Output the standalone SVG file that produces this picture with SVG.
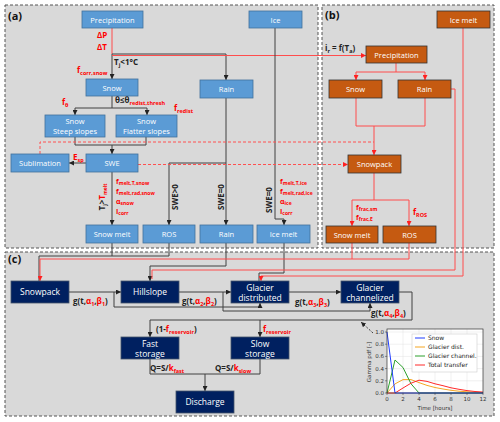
<svg xmlns="http://www.w3.org/2000/svg" width="500" height="422" viewBox="0 0 500 422">
<style>
.pn{fill:#d9d9d9;stroke:#555;stroke-width:1;stroke-dasharray:3,2}
.na{fill:#5b9bd5;stroke:#41719c;stroke-width:0.8}
.nb{fill:#c55a11;stroke:#333;stroke-width:0.8}
.nc{fill:#002060;stroke:#44546a;stroke-width:0.8}
.t{font-family:"Open Sans",sans-serif;font-size:7.5px;fill:#fff;text-anchor:middle}
.tc{font-family:"Open Sans",sans-serif;font-size:8.5px;fill:#fff;text-anchor:middle}
.bl{font-family:"Open Sans",sans-serif;font-size:8px;font-weight:bold;fill:#222}
.rl{font-family:"Open Sans",sans-serif;font-size:8px;font-weight:bold;fill:#ff0000}
.rs{font-family:"Open Sans",sans-serif;font-size:7px;font-weight:bold;fill:#ff0000}
.r{fill:#ff0000}
.k{fill:none;stroke:#404040;stroke-width:1}
.rd{fill:none;stroke:#ff4d4d;stroke-width:1}
.rdd{fill:none;stroke:#ff5050;stroke-width:1;stroke-dasharray:3,2}
.pl{font-family:"Open Sans",sans-serif;font-size:11px;font-weight:bold;fill:#111}
.ax{font-family:"DejaVu Sans",sans-serif;font-size:5.5px;fill:#333}
.lg{font-family:"DejaVu Sans",sans-serif;font-size:6px;fill:#222}
.gr{stroke:#e0e0e0;stroke-width:0.5}
</style>
<defs>
<marker id="ak" viewBox="0 0 6 6" refX="6" refY="3" markerWidth="5" markerHeight="5" orient="auto"><path d="M0,0L6,3L0,6z" fill="#222"/></marker>
<marker id="ar" viewBox="0 0 6 6" refX="6" refY="3" markerWidth="5" markerHeight="5" orient="auto"><path d="M0,0L6,3L0,6z" fill="#ff2020"/></marker>
</defs>
<rect width="500" height="422" fill="#fff"/>
<g id="panels">
<rect class="pn" x="5" y="5" width="313" height="243"/>
<rect class="pn" x="322" y="5" width="172" height="243"/>
<rect class="pn" x="5" y="252" width="489" height="164"/>
<text class="pl" x="8" y="20">(a)</text>
<text class="pl" x="325" y="19">(b)</text>
<text class="pl" x="8" y="263">(c)</text>
</g>
<g id="connectors">
<path class="rd" d="M112,28V54"/>
<path class="k" d="M112,54V79" marker-end="url(#ak)"/>
<path class="k" d="M112,54H226V80" marker-end="url(#ak)"/>
<path class="rd" d="M112,55.5H366" marker-end="url(#ar)"/>
<path class="k" d="M112,96V108M75,108H147"/>
<path class="k" d="M75,108V115" marker-end="url(#ak)"/>
<path class="k" d="M147,108V115" marker-end="url(#ak)"/>
<path class="k" d="M75,137V145H146V137M112,145V154" marker-end="url(#ak)"/>
<path class="k" d="M86,163H69" marker-end="url(#ak)"/>
<path class="k" d="M112,172V225" marker-end="url(#ak)"/>
<path class="k" d="M226,98V225" marker-end="url(#ak)"/>
<path class="k" d="M226,163H169V225" marker-end="url(#ak)"/>
<path class="k" d="M275,28V219H284V225" marker-end="url(#ak)"/>
<path class="rdd" d="M40,154V142H374"/>
<path class="rdd" d="M138,164.5H348" marker-end="url(#ar)"/>
<path class="rd" d="M396,63V72M356,72H425"/>
<path class="rd" d="M356,72V80" marker-end="url(#ar)"/>
<path class="rd" d="M425,72V80" marker-end="url(#ar)"/>
<path class="rd" d="M356,98V126H425V98M374,126V155" marker-end="url(#ar)"/>
<path class="rd" d="M374,173V200M352,200H409"/>
<path class="rd" d="M352,200V226" marker-end="url(#ar)"/>
<path class="rd" d="M409,200V226" marker-end="url(#ar)"/>
<path class="k" d="M112,243V256M169,243V256H39V281"/>
<path class="k" d="M226,243V266H150V281" marker-end="url(#ak)"/>
<path class="k" d="M284,243V273H259V281"/>
<path class="rd" d="M451,89H455V270H152V279"/>
<path class="rd" d="M352,243V259M409,243V259H40V281" marker-end="url(#ar)"/>
<path class="rd" d="M463,28V276H261V281" marker-end="url(#ar)"/>
<path class="k" d="M69,292H121" marker-end="url(#ak)"/>
<path class="k" d="M114,292V307H260V303" marker-end="url(#ak)"/>
<path class="k" d="M179,292H231" marker-end="url(#ak)"/>
<path class="k" d="M223,292V311H370V303" marker-end="url(#ak)"/>
<path class="k" d="M289,292H341" marker-end="url(#ak)"/>
<path class="k" d="M399,292H412V320H150V337" marker-end="url(#ak)"/>
<path class="k" d="M260,320V337" marker-end="url(#ak)"/>
<path class="k" d="M150,359V374H260V359M205,374V391" marker-end="url(#ak)"/>
<path class="k" d="M373,333L361,322" stroke-dasharray="2,1.5" marker-end="url(#ak)"/>
</g>
<g id="labels">
<text class="rl" x="97" y="38">ΔP</text>
<text class="rl" x="97" y="50">ΔT</text>
<text class="bl" x="114" y="65">T<tspan dy="1.8" font-size="5.5">j</tspan><tspan dy="-1.8">&lt;1°C</tspan></text>
<text class="rl" x="77" y="73">f<tspan dy="1.8" font-size="5.5">corr,snow</tspan></text>
<text class="rl" x="62" y="105">f<tspan dy="1.8" font-size="5.5">θ</tspan></text>
<text class="bl" x="115" y="103">θ≤θ<tspan class="r" dy="1.8" font-size="5.5">redist,thresh</tspan></text>
<text class="rl" x="174" y="111">f<tspan dy="1.8" font-size="5.5">redist</tspan></text>
<text class="rl" x="73" y="160">E<tspan dy="1.8" font-size="5.5">sp</tspan></text>
<text class="bl" transform="translate(105,197) rotate(-90)" text-anchor="middle">T<tspan dy="1.5" font-size="5">j</tspan><tspan dy="-1.5">&gt;</tspan><tspan class="r">T<tspan dy="1.5" font-size="5">melt</tspan></tspan></text>
<text class="rs" x="116" y="184">f<tspan dy="1.3" font-size="5">melt,T,snow</tspan></text>
<text class="rs" x="116" y="194">f<tspan dy="1.3" font-size="5">melt,rad,snow</tspan></text>
<text class="rs" x="116" y="204">α<tspan dy="1.3" font-size="5">snow</tspan></text>
<text class="rs" x="116" y="214">I<tspan dy="1.3" font-size="5">corr</tspan></text>
<text class="bl" transform="translate(178,197) rotate(-90)" text-anchor="middle">SWE&gt;0</text>
<text class="bl" transform="translate(224,197) rotate(-90)" text-anchor="middle">SWE=0</text>
<text class="bl" transform="translate(272,200) rotate(-90)" text-anchor="middle">SWE=0</text>
<text class="rs" x="280" y="184">f<tspan dy="1.3" font-size="5">melt,T,ice</tspan></text>
<text class="rs" x="280" y="194">f<tspan dy="1.3" font-size="5">melt,rad,ice</tspan></text>
<text class="rs" x="280" y="204">α<tspan dy="1.3" font-size="5">ice</tspan></text>
<text class="rs" x="280" y="214">I<tspan dy="1.3" font-size="5">corr</tspan></text>
<text class="bl" x="325" y="51">i<tspan dy="1.8" font-size="5.5">r</tspan><tspan dy="-1.8"> = f(T</tspan><tspan dy="1.8" font-size="5.5">a</tspan><tspan dy="-1.8">)</tspan></text>
<text class="rs" x="356" y="210">f<tspan dy="1.3" font-size="5">frac,sm</tspan></text>
<text class="rs" x="356" y="220">f<tspan dy="1.3" font-size="5">frac,E</tspan></text>
<text class="rl" x="413" y="215">f<tspan dy="1.8" font-size="5.5">ROS</tspan></text>
<text class="bl" x="73" y="304">g(t,<tspan class="r">α<tspan dy="1.8" font-size="5.5">1</tspan></tspan><tspan dy="-1.8">,</tspan><tspan class="r">β<tspan dy="1.8" font-size="5.5">1</tspan></tspan><tspan dy="-1.8">)</tspan></text>
<text class="bl" x="182" y="304">g(t,<tspan class="r">α<tspan dy="1.8" font-size="5.5">2</tspan></tspan><tspan dy="-1.8">,</tspan><tspan class="r">β<tspan dy="1.8" font-size="5.5">2</tspan></tspan><tspan dy="-1.8">)</tspan></text>
<text class="bl" x="295" y="305">g(t,<tspan class="r">α<tspan dy="1.8" font-size="5.5">3</tspan></tspan><tspan dy="-1.8">,</tspan><tspan class="r">β<tspan dy="1.8" font-size="5.5">3</tspan></tspan><tspan dy="-1.8">)</tspan></text>
<text class="bl" x="371" y="316">g(t,<tspan class="r">α<tspan dy="1.8" font-size="5.5">4</tspan></tspan><tspan dy="-1.8">,</tspan><tspan class="r">β<tspan dy="1.8" font-size="5.5">4</tspan></tspan><tspan dy="-1.8">)</tspan></text>
<text class="bl" x="156" y="332">(1-<tspan class="r">f<tspan dy="1.8" font-size="5.5">reservoir</tspan></tspan><tspan dy="-1.8">)</tspan></text>
<text class="rl" x="263" y="332">f<tspan dy="1.8" font-size="5.5">reservoir</tspan></text>
<text class="bl" x="150" y="371">Q=S/<tspan class="r">k<tspan dy="1.8" font-size="5.5">fast</tspan></tspan></text>
<text class="bl" x="215" y="371">Q=S/<tspan class="r">k<tspan dy="1.8" font-size="5.5">slow</tspan></tspan></text>
</g>
<g id="n-precip-a"><rect class="na" x="82" y="11" width="61" height="17"/><text class="t" x="112.5" y="22.5">Precipitation</text></g>
<g id="n-ice-a"><rect class="na" x="249" y="11" width="53" height="17"/><text class="t" x="275.5" y="22.5">Ice</text></g>
<g id="n-snow-a"><rect class="na" x="86" y="79" width="52" height="17"/><text class="t" x="112" y="90.5">Snow</text></g>
<g id="n-rain-a"><rect class="na" x="200" y="80" width="53" height="18"/><text class="t" x="226.5" y="92">Rain</text></g>
<g id="n-steep"><rect class="na" x="45" y="115" width="60" height="22"/><text class="t" x="75" y="124">Snow</text><text class="t" x="75" y="133.5">Steep slopes</text></g>
<g id="n-flat"><rect class="na" x="116" y="115" width="61" height="22"/><text class="t" x="146.5" y="124">Snow</text><text class="t" x="146.5" y="133.5">Flatter slopes</text></g>
<g id="n-subl"><rect class="na" x="11" y="154" width="58" height="18"/><text class="t" x="40" y="166">Sublimation</text></g>
<g id="n-swe"><rect class="na" x="86" y="154" width="52" height="18"/><text class="t" x="112" y="166">SWE</text></g>
<g id="n-snowmelt-a"><rect class="na" x="86" y="225" width="52" height="18"/><text class="t" x="112" y="237">Snow melt</text></g>
<g id="n-ros-a"><rect class="na" x="143" y="225" width="52" height="18"/><text class="t" x="169" y="237">ROS</text></g>
<g id="n-rain2-a"><rect class="na" x="200" y="225" width="53" height="18"/><text class="t" x="226.5" y="237">Rain</text></g>
<g id="n-icemelt-a"><rect class="na" x="257" y="225" width="53" height="18"/><text class="t" x="283.5" y="237">Ice melt</text></g>
<g id="n-icemelt-b"><rect class="nb" x="437" y="11" width="53" height="17"/><text class="t" x="463.5" y="22.5">Ice melt</text></g>
<g id="n-precip-b"><rect class="nb" x="366" y="46" width="61" height="17"/><text class="t" x="396.5" y="57.5">Precipitation</text></g>
<g id="n-snow-b"><rect class="nb" x="329" y="80" width="53" height="18"/><text class="t" x="355.5" y="92">Snow</text></g>
<g id="n-rain-b"><rect class="nb" x="398" y="80" width="53" height="18"/><text class="t" x="424.5" y="92">Rain</text></g>
<g id="n-snowpack-b"><rect class="nb" x="348" y="155" width="53" height="18"/><text class="t" x="374.5" y="167">Snowpack</text></g>
<g id="n-snowmelt-b"><rect class="nb" x="326" y="226" width="52" height="17"/><text class="t" x="352" y="237.5">Snow melt</text></g>
<g id="n-ros-b"><rect class="nb" x="383" y="226" width="53" height="17"/><text class="t" x="409.5" y="237.5">ROS</text></g>
<g id="n-snowpack-c"><rect class="nc" x="11" y="281" width="58" height="22"/><text class="tc" x="40" y="295">Snowpack</text></g>
<g id="n-hillslope"><rect class="nc" x="121" y="281" width="58" height="22"/><text class="tc" x="150" y="295">Hillslope</text></g>
<g id="n-gdist"><rect class="nc" x="231" y="281" width="58" height="22"/><text class="tc" x="260" y="290.5">Glacier</text><text class="tc" x="260" y="300.5">distributed</text></g>
<g id="n-gchan"><rect class="nc" x="341" y="281" width="58" height="22"/><text class="tc" x="370" y="290.5">Glacier</text><text class="tc" x="370" y="300.5">channelized</text></g>
<g id="n-fast"><rect class="nc" x="121" y="337" width="58" height="22"/><text class="tc" x="150" y="346.5">Fast</text><text class="tc" x="150" y="356.5">storage</text></g>
<g id="n-slow"><rect class="nc" x="231" y="337" width="58" height="22"/><text class="tc" x="260" y="346.5">Slow</text><text class="tc" x="260" y="356.5">storage</text></g>
<g id="n-discharge"><rect class="nc" x="176" y="391" width="58" height="22"/><text class="tc" x="205" y="405">Discharge</text></g>
<g id="chart">
<rect x="387" y="329" width="96" height="64" fill="#fff"/>
<path class="gr" d="M403,329V393M419,329V393M435,329V393M451,329V393M467,329V393M387,380.8H483M387,368.6H483M387,356.4H483M387,344.2H483M387,332H483"/>
<polyline fill="none" stroke="#f5a623" stroke-width="1" points="387,393 395,383.9 403,379.6 411,379.6 419,382.6 427,385.4 435,387.5 443,389 451,390.3 459,391.2 467,391.8 475,392.2 483,392.5"/>
<polyline fill="none" stroke="#2ca02c" stroke-width="1" points="387,393 395,360 403,367.5 411,383.8 419,393 483,393"/>
<polyline fill="none" stroke="#ff2a2a" stroke-width="1" points="387,393 395,393 403,388 411,383.2 419,380.2 427,381.4 435,383.8 443,385.7 451,387.8 459,389.3 467,390.6 475,391.5 483,392.1"/>
<polyline fill="none" stroke="#1f3cff" stroke-width="1" points="387,332 395,393 483,393"/>
<rect x="387" y="329" width="96" height="64" fill="none" stroke="#333" stroke-width="0.7"/>
<path stroke="#333" stroke-width="0.5" d="M387,393v2M403,393v2M419,393v2M435,393v2M451,393v2M467,393v2M483,393v2M387,393h-2M387,380.8h-2M387,368.6h-2M387,356.4h-2M387,344.2h-2M387,332h-2"/>
<g class="ax" text-anchor="end"><text x="384" y="395">0.0</text><text x="384" y="382.8">0.2</text><text x="384" y="370.6">0.4</text><text x="384" y="358.4">0.6</text><text x="384" y="346.2">0.8</text><text x="384" y="334">1.0</text></g>
<g class="ax" text-anchor="middle"><text x="387" y="401">0</text><text x="403" y="401">2</text><text x="419" y="401">4</text><text x="435" y="401">6</text><text x="451" y="401">8</text><text x="467" y="401">10</text><text x="483" y="401">12</text></g>
<text class="ax" x="435" y="410" text-anchor="middle" font-size="6">Time [hours]</text>
<text class="ax" transform="translate(371,362) rotate(-90)" text-anchor="middle" font-size="6">Gamma pdf [-]</text>
<rect x="412" y="334" width="65" height="38" fill="#fff" stroke="#ccc" stroke-width="0.6"/>
<path stroke="#1f3cff" d="M415,338H425"/><text class="lg" x="428" y="340">Snow</text>
<path stroke="#f5a623" d="M415,347H425"/><text class="lg" x="428" y="349">Glacier dist.</text>
<path stroke="#2ca02c" d="M415,356H425"/><text class="lg" x="428" y="358">Glacier channel.</text>
<path stroke="#ff2a2a" d="M415,365H425"/><text class="lg" x="428" y="367">Total transfer</text>
</g>
</svg>
